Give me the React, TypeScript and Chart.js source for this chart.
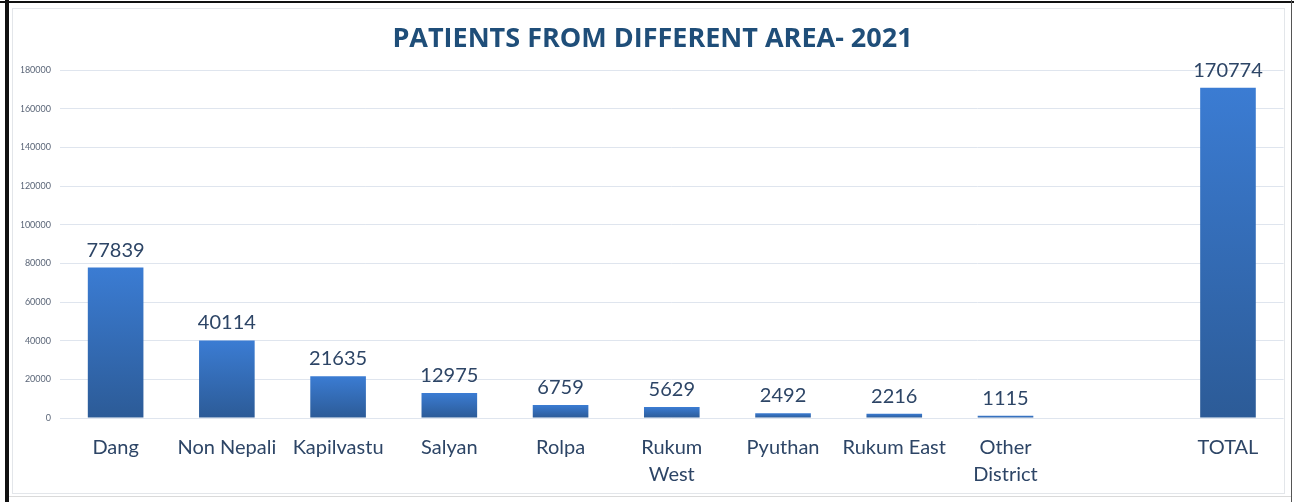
import React, { useEffect, useRef } from "react";
import { Chart, registerables } from "chart.js";

Chart.register(...registerables);

const TITLE = "PATIENTS FROM DIFFERENT AREA- 2021";
const categories: (string | string[])[] = [
  "Dang",
  "Non Nepali",
  "Kapilvastu",
  "Salyan",
  "Rolpa",
  ["Rukum", "West"],
  "Pyuthan",
  "Rukum East",
  ["Other", "District"],
  "",
  "TOTAL",
];
const patients: (number | null)[] = [77839, 40114, 21635, 12975, 6759, 5629, 2492, 2216, 1115, null, 170774];
const yMin = 0;
const yMax = 180000;
const yStep = 20000;

const LABEL_FONT = "Lato";
const TEXT_COLOR = "#2d4566";

const valueLabels = {
  id: "valueLabels",
  afterDatasetsDraw(chart: any) {
    const ctx = chart.ctx;
    const meta = chart.getDatasetMeta(0);
    ctx.save();
    ctx.font = `20px ${LABEL_FONT}`;
    ctx.fillStyle = TEXT_COLOR;
    ctx.textAlign = "center";
    ctx.textBaseline = "alphabetic";
    meta.data.forEach((el: any, i: number) => {
      const v = patients[i];
      if (v === null || v === undefined) return;
      ctx.fillText(String(v), el.x, el.y - 11);
    });
    ctx.restore();
  },
};

export default function App() {
  const ref = useRef<HTMLCanvasElement>(null);

  useEffect(() => {
    document.body.style.margin = "0";
    const canvas = ref.current!;
    const chart = new Chart(canvas, {
      type: "bar",
      data: {
        labels: categories,
        datasets: [
          {
            data: patients,
            backgroundColor: (c: any) => {
              const ch = c.chart;
              const ys = ch.scales?.y;
              const v = c.raw;
              if (!ys || v === null || v === undefined || !ch.chartArea) return "#3470c0";
              const top = ys.getPixelForValue(v);
              const bottom = ys.getPixelForValue(0);
              if (!isFinite(top) || bottom - top < 1) return "#3470c0";
              const g = ch.ctx.createLinearGradient(0, top, 0, bottom);
              g.addColorStop(0, "#3b7cd3");
              g.addColorStop(1, "#2c5b97");
              return g;
            },
            borderWidth: 0,
            categoryPercentage: 1,
            barPercentage: 0.5,
          },
        ],
      },
      options: {
        responsive: false,
        animation: false,
        layout: { padding: { left: 21.4, right: 10.4, top: 0, bottom: 0 } },
        plugins: {
          legend: { display: false },
          tooltip: { enabled: false },
          title: {
            display: true,
            text: TITLE,
            color: "#1f4e79",
            font: { family: "Open Sans", weight: "bold", size: 27, lineHeight: 1.2 },
            padding: { top: 23.5, bottom: 14.1 },
          },
        },
        scales: {
          x: {
            grid: { display: false, drawTicks: false },
            border: { display: false },
            ticks: {
              color: TEXT_COLOR,
              font: { family: LABEL_FONT, size: 20, lineHeight: 1.35 },
              padding: 16,
              maxRotation: 0,
              autoSkip: false,
            },
            afterFit: (s: any) => {
              s.height = 84;
            },
          },
          y: {
            min: yMin,
            max: yMax,
            grid: { color: "#dfe5ee", lineWidth: 1, drawTicks: false },
            border: { display: false },
            ticks: {
              stepSize: yStep,
              color: "#5b6678",
              font: { family: LABEL_FONT, size: 9 },
              padding: 9,
              callback: (v: any) => String(v),
            },
            afterFit: (s: any) => {
              s.width = 38.6;
            },
          },
        },
      },
      plugins: [valueLabels],
    });
    return () => chart.destroy();
  }, []);

  return (
    <div style={{ position: "relative", width: 1294, height: 502, background: "#fff", overflow: "hidden" }}>
      <div style={{ position: "absolute", left: 0, top: 1, width: 1294, height: 2, background: "#111" }} />
      <div style={{ position: "absolute", left: 5, top: 0, width: 4, height: 502, background: "#111" }} />
      <div style={{ position: "absolute", left: 1291, top: 0, width: 1, height: 502, background: "#555" }} />
      <div
        style={{
          position: "absolute",
          left: 12,
          top: 8,
          width: 1271,
          height: 484,
          border: "1px solid #e3e6ea",
        }}
      />
      <div style={{ position: "absolute", left: 9, top: 496, width: 1282, height: 1, background: "#dadada" }} />
      <canvas ref={ref} width={1294} height={502} style={{ position: "absolute", left: 0, top: 0, display: "block" }} />
    </div>
  );
}
